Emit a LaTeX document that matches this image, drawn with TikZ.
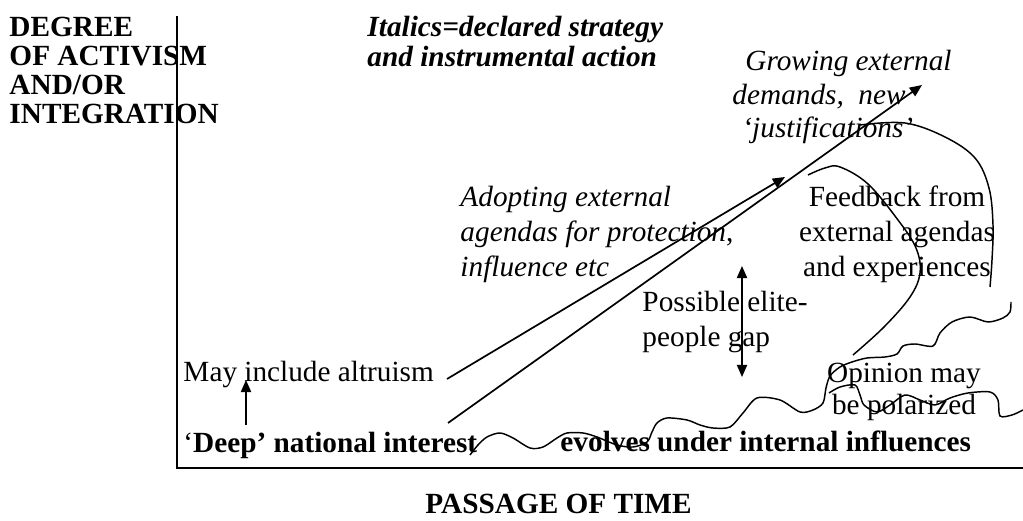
\documentclass[tikz,border=0pt]{standalone}
\usepackage{fontspec}
\setmainfont{Liberation Serif}
\usetikzlibrary{arrows.meta}

\begin{document}
\begin{tikzpicture}[x=0.41pt,y=-0.41pt,
  txt/.style={inner sep=0pt,anchor=base west,align=left,font=\fontsize{12}{14.35pt}\selectfont},
  arr/.style={line width=0.7pt,-{Triangle[length=5pt,width=4.2pt]}},
  scribble/.style={line width=0.6pt}]
\useasboundingbox (0,0) rectangle (1023,521);
% axes
\coordinate (top) at (177,16);
\coordinate (origin) at (177,468);
\coordinate (right) at (1023,468);
\draw [line width=0.8pt] (top)--(origin)--(right);
% labels (a node sits on the baseline of its last line)
\node [txt,font=\fontsize{12}{12pt}\selectfont\bfseries] (degree) at (9,124) {DEGREE\\OF ACTIVISM\\AND/OR\\INTEGRATION};
\node [txt,font=\fontsize{12}{12.6pt}\selectfont\bfseries\itshape] (legend) at (367,67) {Italics=declared strategy\\and instrumental action};
\node [txt,font=\fontsize{12}{13.9pt}\selectfont\itshape] (growing) at (732,138) {\hspace*{5.3pt}Growing external\\demands,\hspace{3pt} new\\\hspace*{4.1pt}‘justifications’};
\node [txt,font=\fontsize{12}{14.35pt}\selectfont\itshape] (adopting) at (460,277) {Adopting external\\agendas for protection\textup{,}\\influence etc};
\node [txt,anchor=base,align=center] (feedback) at (897,277) {Feedback from\\external agendas\\and experiences};
\node [txt] (gap) at (642,347) {Possible elite-\\people gap};
\node [txt] (altruism) at (183,382) {May include altruism};
\node [txt,anchor=base,align=center,font=\fontsize{12}{13.5pt}\selectfont] (opinion) at (904,415) {Opinion may\\be polarized};
\node [txt,font=\fontsize{12}{14pt}\selectfont\bfseries] (deep) at (183,453) {{\mdseries ‘}Deep’ national interest};
\node [txt,font=\fontsize{12}{14pt}\selectfont\bfseries] (evolves) at (560,452) {evolves under internal influences};
\node [txt,font=\fontsize{12}{14pt}\selectfont\bfseries] (time) at (425,514) {PASSAGE OF TIME};
% arrows
\coordinate (a0) at (447,379);
\coordinate (a1) at (785,177);
\coordinate (b0) at (448,423);
\coordinate (b1) at (922,85);
\draw [arr] (a0)--(a1);
\draw [arr] (b0)--(b1);
\coordinate (u0) at (246,425);
\coordinate (u1) at (246,380);
\draw [arr] (u0)--(u1);
\coordinate (g0) at (742,322);
\coordinate (g1) at (742,266);
\coordinate (g2) at (742,377);
\draw [arr] (g0)--(g1);
\draw [arr] (g0)--(g2);
% feedback loops
\draw [scribble] plot [smooth,tension=0.6] coordinates {(860,125) (905,123) (945,137) (975,158) (989,188) (993,225) (992,260) (990,287)};
\draw [scribble] plot [smooth,tension=0.6] coordinates {(808,175) (825,168) (840,167) (868,184) (898,220) (916,248) (920,273) (910,297) (884,327) (853,355)};
% the wavy lines
\draw [scribble] plot [smooth,tension=0.5] coordinates {(470,455) (478,445) (487,437) (500,433) (513,438) (530,448) (543,447) (557,438) (567,433) (583,433) (597,437) (617,445) (633,447) (647,442) (652,432) (657,423) (667,418) (687,420) (700,425) (713,428) (730,427) (743,413) (757,398) (780,400) (800,412) (813,410) (823,403) (826,388) (830,376) (840,367) (852,362) (867,358) (885,357) (897,354) (903,346) (915,344) (933,346) (940,333) (952,322) (970,317) (988,322) (1003,318) (1010,312) (1011,302)};
\draw [scribble] plot [smooth,tension=0.5] coordinates {(829,393) (840,387) (855,385) (860,395) (864,405) (877,412) (890,405) (905,395) (920,400) (935,405) (950,398) (968,393) (990,392) (998,400) (1000,416) (1012,415) (1023,410)};
\end{tikzpicture}
\end{document}
